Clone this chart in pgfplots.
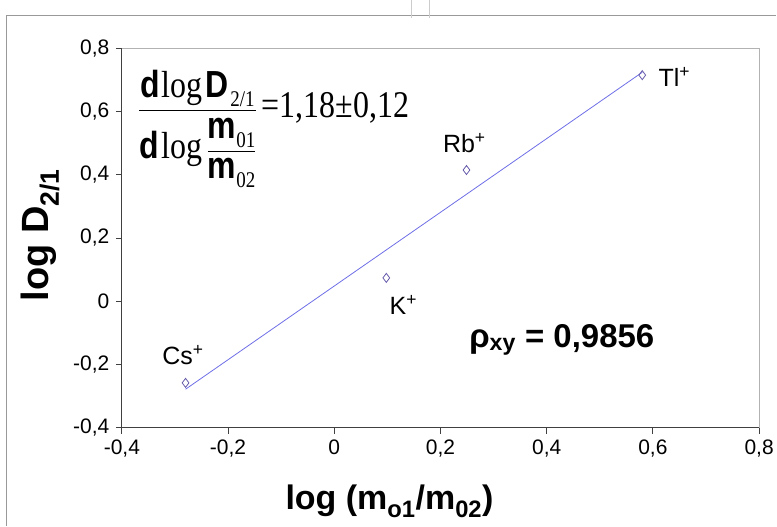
\documentclass[border=0pt]{standalone}
\usepackage{pgfplots}
\pgfplotsset{compat=1.18}
\usepackage{graphicx}
\usepackage{fontspec}
\setmainfont{Liberation Sans}
\newfontfamily\tms{Liberation Serif}
\definecolor{lineblue}{RGB}{110,110,230}
\definecolor{markc}{RGB}{100,90,170}
\begin{document}
\begin{tikzpicture}[x=1pt,y=1pt]
\path (0,0) rectangle (777,526);
\draw[gray!80,line width=0.8pt] (6,0) -- (6,511) -- (777,511);
\draw[gray!40,line width=0.6pt] (412,526) -- (412,508);
\draw[gray!40,line width=0.6pt] (430,526) -- (430,508);
\begin{axis}[
  at={(122pt,98pt)}, anchor=south west,
  width=638pt, height=380pt, scale only axis,
  xmin=-0.4, xmax=0.8, ymin=-0.4, ymax=0.8,
  xtick={-0.4,-0.2,0,0.2,0.4,0.6,0.8},
  ytick={-0.4,-0.2,0,0.2,0.4,0.6,0.8},
  xtick pos=left, ytick pos=left,
  tick align=outside,
  major tick length=6pt,
  tick style={black!75, line width=0.8pt},
  axis line style={gray!60, line width=0.8pt},
  /pgf/number format/.cd, use comma, fixed, precision=1, assume math mode=true,
  /pgfplots/.cd,
  ticklabel style={font=\fontsize{21}{24}\selectfont},
  xticklabel style={yshift=-3pt},
  yticklabel style={xshift=-3pt},
  clip=false,
]
\draw[black!75, line width=0.9pt] (rel axis cs:0,1) -- (rel axis cs:0,0) -- (rel axis cs:1,0);
\addplot[lineblue, line width=0.8pt, no marks] coordinates {(-0.28,-0.278) (0.58,0.724)};
\addplot[only marks, mark=diamond, mark size=4.5pt, mark options={draw=markc, fill=white, line width=0.8pt}]
  coordinates {(-0.28,-0.258) (0.098,0.074) (0.249,0.415) (0.58,0.715)};
\node[anchor=west, font=\fontsize{25}{28}\selectfont] at (axis cs:0.604,0.71) {Tl\textsuperscript{+}};
\node[font=\fontsize{25}{28}\selectfont] at (axis cs:0.245,0.50) {Rb\textsuperscript{+}};
\node[font=\fontsize{25}{28}\selectfont] at (axis cs:0.130,-0.011) {K\textsuperscript{+}};
\node[font=\fontsize{25}{28}\selectfont] at (axis cs:-0.285,-0.169) {Cs\textsuperscript{+}};
\node[anchor=west, inner sep=0pt, font=\fontsize{33}{36}\selectfont\bfseries] at (axis cs:0.254,-0.122) {ρ\textsubscript{xy} = 0,9856};
\node[anchor=west, inner sep=0pt] at (axis cs:-0.370,0.545) {\scalebox{1}[1.18]{\fontsize{32}{36}\selectfont
$\displaystyle\frac{\mbox{\bfseries d\kern1pt{\tms\mdseries log}\kern3pt D\raisebox{-0.45ex}{\tms\mdseries\fontsize{19}{19}\selectfont\kern2pt 2/1}}}
{\rule{0pt}{1.25em}\mbox{\bfseries d\kern3pt{\tms\mdseries log}}\,\displaystyle\frac{\mbox{\bfseries m\raisebox{-0.45ex}{\tms\mdseries\fontsize{19}{19}\selectfont 01}}}{\mbox{\bfseries m\raisebox{-0.45ex}{\tms\mdseries\fontsize{19}{19}\selectfont 02}}}}
\mbox{\tms\kern4pt=1,18±0,12}$}};
\end{axis}
\node[rotate=90, font=\fontsize{38}{42}\selectfont\bfseries] at (40,291) {log D\textsubscript{2/1}};
\node[font=\fontsize{34}{38}\selectfont\bfseries] at (390,24) {log (m\textsubscript{o1}/m\textsubscript{02})};
\end{tikzpicture}
\end{document}
